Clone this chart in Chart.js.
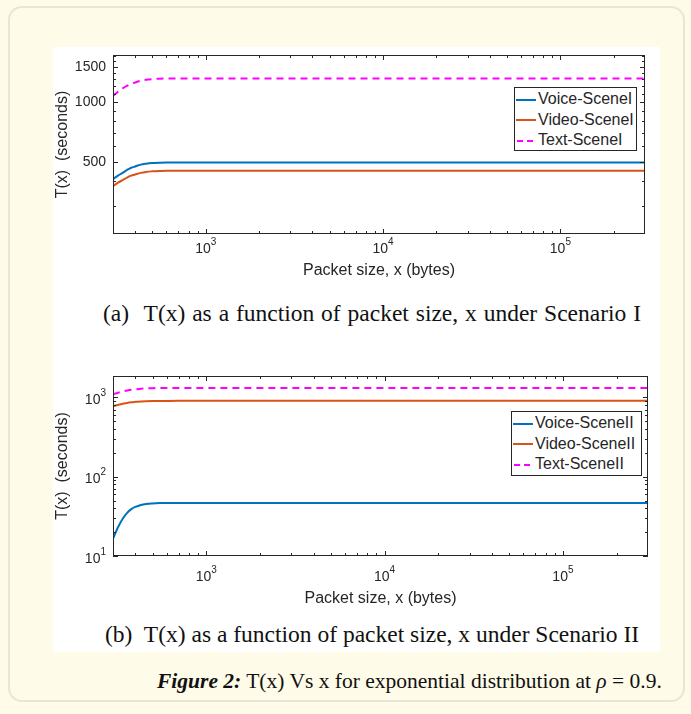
<!DOCTYPE html>
<html>
<head>
<meta charset="utf-8">
<script src="https://cdn.jsdelivr.net/npm/chart.js@4.4.1/dist/chart.umd.min.js"></script>
<style>
  html, body { margin: 0; padding: 0; }
  body { width: 691px; height: 714px; background: #fffbe9; position: relative; overflow: hidden; }
  #frame { position: absolute; left: 8px; top: 6px; width: 677px; height: 696px; border: 2px solid #e9e6d8; border-radius: 14px; box-sizing: border-box; }
  #panel { position: absolute; left: 53px; top: 47px; width: 607px; height: 605px; background: #fff; }
  canvas { position: absolute; left: 53px; }
  .cap { position: absolute; font-family: "Liberation Serif", "Times New Roman", serif; font-size: 23.5px; color: #111; white-space: nowrap; line-height: 1; }
  .legend { position: absolute; border: 1px solid #262626; background: #fff; box-sizing: border-box;
            font-family: "Liberation Sans", Arial, sans-serif; font-size: 16px; color: #262626; padding-top: 1px; }
  .legend .row { height: 20.5px; line-height: 20.5px; white-space: nowrap; }
  .legend svg { vertical-align: middle; margin: 0 2px 0 1px; }
  #figcap { position: absolute; left: 157px; top: 671px; font-family: "Liberation Serif", "Times New Roman", serif; font-size: 21.5px; color: #111; white-space: nowrap; line-height: 1; }
</style>
</head>
<body>
<div id="frame"></div>
<div id="panel"></div>
<canvas id="chartA" width="607" height="245" style="top:47px"></canvas>
<canvas id="chartB" width="607" height="246" style="top:368px"></canvas>
<div class="legend" id="legendA" style="left:514px; top:87px; width:123px; height:64px"></div>
<div class="legend" id="legendB" style="left:511px; top:411px; width:131px; height:65px"></div>
<div class="cap" style="left:103px; top:302px; word-spacing:1px"><span style="margin-right:8px">(a)</span> T(x) as a function of packet size, x under Scenario I</div>
<div class="cap" style="left:105px; top:623px"><span style="margin-right:6px">(b)</span> T(x) as a function of packet size, x under Scenario II</div>
<div id="figcap"><b><i>Figure 2:</i></b> T(x) Vs x for exponential distribution at <i>ρ</i> = 0.9.</div>

<script>
// packet size x (bytes), shared by every curve
const packetSize = [300, 320, 340, 360, 380, 400, 430, 460, 500, 550, 600, 700, 800, 1000, 2000, 5000, 10000, 30000, 100000, 300000];

// Scenario I, T(x) in seconds
const voiceI = [410, 426, 440, 455, 467, 474, 484, 489, 493, 495, 496, 496, 496, 496, 496, 496, 496, 496, 496, 496];
const videoI = [378, 393, 405, 417, 426, 432, 440, 445, 448, 450, 451, 451, 451, 451, 451, 451, 451, 451, 451, 451];
const textI  = [1070, 1125, 1170, 1205, 1235, 1252, 1278, 1292, 1302, 1308, 1310, 1311, 1311, 1311, 1311, 1311, 1311, 1311, 1311, 1311];

// Scenario II
const voiceII = [16.5, 23, 29.5, 35, 39, 41.5, 44, 45.3, 46, 46.4, 46.5, 46.6, 46.6, 46.6, 46.6, 46.6, 46.6, 46.6, 46.6, 46.6];
const videoII = [770, 800, 825, 848, 864, 874, 885, 892, 896, 898, 899, 900, 900, 900, 900, 900, 900, 900, 900, 900];
const textII  = [1090, 1140, 1180, 1212, 1238, 1255, 1278, 1292, 1300, 1306, 1308, 1310, 1310, 1310, 1310, 1310, 1310, 1310, 1310, 1310];

const labelsI  = ["Voice-SceneI", "Video-SceneI", "Text-SceneI"];
const labelsII = ["Voice-SceneII", "Video-SceneII", "Text-SceneII"];

// tick labels
const xTicks = [1000, 10000, 100000];
const yTicksA = [500, 1000, 1500];
const yTicksB = [10, 100, 1000];

const colors = ["#0072BD", "#D95319", "#FF00FF"];
const dashes = [[], [], [7, 5]];
const ink = "#262626";
const sans = "'Liberation Sans', Arial, Helvetica, sans-serif";

// minor tick values of a log axis (2..9 x 10^k) inside [min, max]
function logMinors(min, max) {
  const out = [];
  for (let e = Math.floor(Math.log10(min)); e <= Math.ceil(Math.log10(max)); e++) {
    const d = Math.pow(10, e);
    for (let m = 2; m < 10; m++) {
      const v = m * d;
      if (v > min && v < max) out.push(v);
    }
  }
  return out;
}

// "10" with a raised exponent, like matlab's 10^3 labels
function drawPow(ctx, v, x, y, align) {
  const e = String(Math.round(Math.log10(v)));
  ctx.font = "14px " + sans;
  const wb = ctx.measureText("10").width;
  ctx.font = "10px " + sans;
  const we = ctx.measureText(e).width;
  const left = align === "right" ? x - wb - we : x - (wb + we) / 2;
  ctx.textAlign = "left";
  ctx.textBaseline = "middle";
  ctx.font = "14px " + sans;
  ctx.fillText("10", left, y);
  ctx.font = "10px " + sans;
  ctx.fillText(e, left + wb, y - 7);
}

// matlab look: box round the axes, ticks pointing inwards on all four sides
const matlabAxes = {
  id: "matlabAxes",
  afterDraw(chart, args, o) {
    const { ctx, chartArea: a, scales: { x, y } } = chart;
    ctx.save();
    ctx.strokeStyle = ink;
    ctx.fillStyle = ink;
    ctx.lineWidth = 1;
    ctx.beginPath();
    const xs = [...x.ticks.map(t => [t.value, 5]), ...o.xMinor.map(v => [v, 3])];
    xs.forEach(([v, len]) => {
      const px = Math.round(x.getPixelForValue(v)) + 0.5;
      ctx.moveTo(px, a.bottom); ctx.lineTo(px, a.bottom - len);
      ctx.moveTo(px, a.top); ctx.lineTo(px, a.top + len);
    });
    const ys = [...y.ticks.map(t => [t.value, 5]), ...o.yMinor.map(v => [v, 3])];
    ys.forEach(([v, len]) => {
      const py = Math.round(y.getPixelForValue(v)) + 0.5;
      ctx.moveTo(a.left, py); ctx.lineTo(a.left + len, py);
      ctx.moveTo(a.right, py); ctx.lineTo(a.right - len, py);
    });
    ctx.stroke();
    ctx.strokeRect(Math.round(a.left) + 0.5, Math.round(a.top) + 0.5,
                   Math.round(a.right - a.left) - 1, Math.round(a.bottom - a.top) - 1);
    // power-of-ten tick labels
    x.ticks.forEach(t => drawPow(ctx, t.value, x.getPixelForValue(t.value), a.bottom + o.xLabelGap, "center"));
    if (o.yPow) {
      y.ticks.forEach(t => drawPow(ctx, t.value, a.left - 7, y.getPixelForValue(t.value) + 3, "right"));
    }
    ctx.restore();
  }
};

const noPad = s => { s.paddingTop = 0; s.paddingBottom = 0; s.paddingLeft = 0; s.paddingRight = 0; };

function buildChart(id, p) {
  return new Chart(document.getElementById(id), {
    type: "line",
    data: {
      datasets: p.values.map((vals, i) => ({
        label: p.labels[i],
        data: packetSize.map((x, k) => ({ x: x, y: vals[k] })),
        borderColor: colors[i],
        borderWidth: 2,
        borderDash: dashes[i],
        pointRadius: 0,
        cubicInterpolationMode: "monotone",
        fill: false
      }))
    },
    options: {
      responsive: false,
      animation: false,
      devicePixelRatio: 1,
      layout: { padding: { top: 8, right: p.padRight, left: 0, bottom: 0 } },
      plugins: {
        legend: { display: false },
        tooltip: { enabled: false },
        matlabAxes: { xMinor: logMinors(300, 300000), yMinor: p.yMinor, yPow: p.yPow, xLabelGap: p.xLabelGap }
      },
      scales: {
        x: {
          type: "logarithmic", min: 300, max: 300000, bounds: "data",
          afterBuildTicks: s => { s.ticks = xTicks.map(v => ({ value: v })); },
          afterFit: s => { s.height = p.xHeight; noPad(s); },
          grid: { display: false, drawTicks: false },
          border: { display: false },
          ticks: { display: false },
          title: { display: true, text: "Packet size, x (bytes)", color: ink,
                   font: { family: sans, size: 16 }, padding: { top: 0, bottom: p.xTitlePad } }
        },
        y: {
          type: "logarithmic", min: p.yMin, max: p.yMax, bounds: "data",
          afterBuildTicks: s => { s.ticks = p.yTicks.map(v => ({ value: v })); },
          afterFit: s => { s.width = 60; noPad(s); },
          grid: { display: false, drawTicks: false },
          border: { display: false },
          ticks: { display: !p.yPow, autoSkip: false, padding: 7, color: ink,
                   font: { family: sans, size: 14 }, callback: v => String(v) },
          title: { display: true, text: "T(x)  (seconds)", color: ink,
                   font: { family: sans, size: 16 }, padding: { top: 0, bottom: 0 } }
        }
      }
    },
    plugins: [matlabAxes]
  });
}

function buildLegend(chart, id) {
  document.getElementById(id).innerHTML = chart.data.datasets.map(ds =>
    '<div class="row"><svg width="20" height="4"><line x1="0" y1="2" x2="20" y2="2" stroke="' + ds.borderColor +
    '" stroke-width="2"' + (ds.borderDash.length ? ' stroke-dasharray="6,4" stroke-dashoffset="-1"' : '') +
    '/></svg>' + ds.label + '</div>').join("");
}

const yMinorA = [];
for (let v = 300; v <= 1700; v += 100) if (!yTicksA.includes(v)) yMinorA.push(v);

const chartA = buildChart("chartA", {
  values: [voiceI, videoI, textI], labels: labelsI,
  yMin: 217, yMax: 1720, yTicks: yTicksA, yMinor: yMinorA, yPow: false,
  padRight: 15, xHeight: 58, xLabelGap: 15, xTitlePad: 12
});
const chartB = buildChart("chartB", {
  values: [voiceII, videoII, textII], labels: labelsII,
  yMin: 10, yMax: 1850, yTicks: yTicksB, yMinor: logMinors(10, 1850), yPow: true,
  padRight: 12, xHeight: 58, xLabelGap: 21, xTitlePad: 6
});
buildLegend(chartA, "legendA");
buildLegend(chartB, "legendB");
</script>
</body>
</html>
